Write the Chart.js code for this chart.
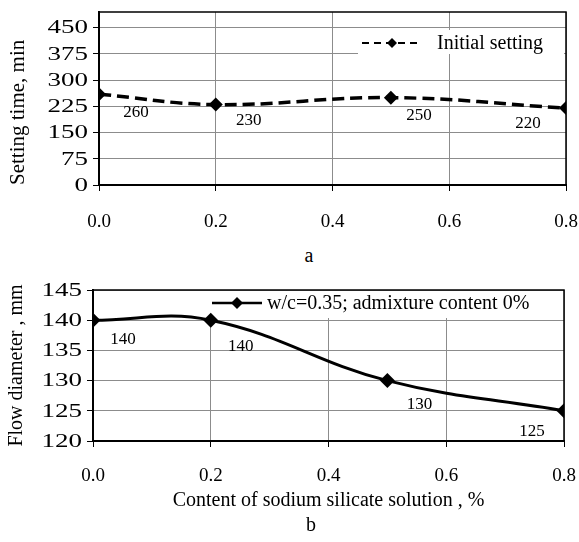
<!DOCTYPE html>
<html>
<head>
<meta charset="utf-8">
<script src="https://cdn.jsdelivr.net/npm/chart.js@4.4.0/dist/chart.umd.min.js"></script>
<style>
  html, body { margin: 0; padding: 0; background: #fff; }
  #wrap { position: relative; width: 579px; height: 542px; }
  canvas { position: absolute; left: 0; }
  .cap { position: absolute; width: 40px; text-align: center; font: 20px "Liberation Serif", "Times New Roman", serif; line-height: 20px; color: #000; }
</style>
</head>
<body>
<div id="wrap">
  <canvas id="top" width="579" height="240" style="top:0"></canvas>
  <div class="cap" style="left:289px;top:245px">a</div>
  <canvas id="bottom" width="579" height="250" style="top:270px"></canvas>
  <div class="cap" style="left:291px;top:514px">b</div>
</div>
<script>
// x positions = content of sodium silicate solution, %
const content = [0.0, 0.2, 0.5, 0.8];
// (a) initial setting time, min
const settingTime = [260, 230, 250, 220];
// (b) flow diameter, mm  (w/c = 0.35, admixture 0%)
const flowDiameter = [140, 140, 130, 125];

const xTicks = [0.0, 0.2, 0.4, 0.6, 0.8];
const settingTicks = [0, 75, 150, 225, 300, 375, 450];
const flowTicks = [120, 125, 130, 135, 140, 145];

const SERIF = '"Liberation Serif", "Times New Roman", serif';
Chart.defaults.font.family = SERIF;
Chart.defaults.color = '#000';

// value labels next to the points
const pointLabels = {
  id: 'pointLabels',
  afterDatasetsDraw(chart, args, opts) {
    const ctx = chart.ctx;
    const ds = chart.data.datasets[0];
    const meta = chart.getDatasetMeta(0);
    ctx.save();
    ctx.font = opts.font;
    ctx.fillStyle = '#000';
    ctx.textAlign = 'center';
    ctx.textBaseline = 'middle';
    meta.data.forEach((pt, i) => {
      const off = opts.offsets[i];
      ctx.fillText(String(ds.data[i].y), pt.x + off[0], pt.y + off[1]);
    });
    ctx.restore();
  }
};

// the y tick labels in the original are set in a horizontally widened face
const wideYTicks = {
  id: 'wideYTicks',
  afterDraw(chart, args, opts) {
    const s = chart.scales.y, ctx = chart.ctx;
    ctx.save();
    ctx.font = opts.font;
    ctx.fillStyle = '#000';
    ctx.textAlign = 'right';
    ctx.textBaseline = 'middle';
    s.ticks.forEach(t => {
      ctx.save();
      ctx.translate(opts.right, s.getPixelForValue(t.value) + 1);
      ctx.scale(opts.stretch, 1);
      ctx.fillText(String(t.value), 0, 0);
      ctx.restore();
    });
    ctx.restore();
  }
};

// plot frame (top/right) and the little key box inside the plot
const frameAndKey = {
  id: 'frameAndKey',
  beforeDatasetsDraw(chart, args, opts) {
    const { ctx, chartArea: a } = chart;
    const ds = chart.data.datasets[0];
    ctx.save();
    const k = opts.key;
    ctx.fillStyle = '#fff';
    ctx.fillRect(k.x, k.y, k.w, k.h);

    ctx.strokeStyle = '#000';
    ctx.lineWidth = 1.5;
    ctx.beginPath();
    ctx.moveTo(a.left, a.top);
    ctx.lineTo(a.right, a.top);
    ctx.lineTo(a.right, a.bottom);
    ctx.stroke();

    const ly = k.ly;
    ctx.lineWidth = k.lineWidth;
    ctx.setLineDash(k.dash);
    ctx.beginPath();
    ctx.moveTo(k.x0, ly);
    ctx.lineTo(k.x1, ly);
    ctx.stroke();
    ctx.setLineDash([]);
    const cx = (k.x0 + k.x1) / 2, r = k.r;
    ctx.fillStyle = '#000';
    ctx.beginPath();
    ctx.moveTo(cx, ly - r); ctx.lineTo(cx + r, ly); ctx.lineTo(cx, ly + r); ctx.lineTo(cx - r, ly);
    ctx.closePath();
    ctx.fill();
    ctx.font = k.font;
    ctx.textAlign = 'left';
    ctx.textBaseline = 'middle';
    ctx.fillText(ds.label, k.tx, ly + 1);
    ctx.restore();
  }
};

const gridOpts = { color: '#8c8c8c', lineWidth: 1, tickLength: 6, tickColor: '#000' };

function xScale(pad, h) {
  return {
    type: 'linear', min: 0, max: 0.8,
    afterBuildTicks: s => { s.ticks = xTicks.map(v => ({ value: v })); },
    afterFit: s => { s.height = h; s.paddingLeft = 0; s.paddingRight = 0; },
    ticks: { font: { size: 19 }, padding: pad, callback: v => v.toFixed(1) },
    grid: gridOpts,
    border: { color: '#000', width: 2 }
  };
}

new Chart(document.getElementById('top'), {
  type: 'line',
  data: {
    datasets: [{
      label: 'Initial setting',
      data: content.map((x, i) => ({ x: x, y: settingTime[i] })),
      borderColor: '#000', backgroundColor: '#000',
      borderWidth: 3.5, borderDash: [12, 6], tension: 0.4,
      pointStyle: 'rectRot', pointRadius: 7, pointBorderWidth: 0
    }]
  },
  options: {
    responsive: false, animation: false, devicePixelRatio: 1,
    layout: { padding: { left: 0, top: 12, right: 13, bottom: 0 } },
    plugins: {
      legend: { display: false }, tooltip: { enabled: false },
      pointLabels: { font: '17px ' + SERIF, offsets: [[37, 18], [33, 16], [28, 18], [-38, 15]] },
      wideYTicks: { font: '18px ' + SERIF, right: 88, stretch: 1.5 },
      frameAndKey: { key: { x: 358, y: 30, w: 206, h: 24, ly: 43, x0: 362, x1: 422, r: 5, lineWidth: 2, dash: [7, 5], tx: 437, font: '20px ' + SERIF } }
    },
    scales: {
      x: xScale(20, 55),
      y: {
        min: 0, max: 495,
        afterBuildTicks: s => { s.ticks = settingTicks.map(v => ({ value: v })); },
        afterFit: s => { s.width = 99; s.paddingTop = 0; s.paddingBottom = 0; },
        ticks: { display: false },
        grid: gridOpts,
        border: { color: '#000', width: 2 },
        title: { display: true, text: 'Setting time, min', font: { size: 21 }, align: 'start', padding: { top: 6, bottom: 0 } }
      }
    }
  },
  plugins: [frameAndKey, pointLabels, wideYTicks]
});

new Chart(document.getElementById('bottom'), {
  type: 'line',
  data: {
    datasets: [{
      label: 'w/c=0.35; admixture content 0%',
      data: content.map((x, i) => ({ x: x, y: flowDiameter[i] })),
      borderColor: '#000', backgroundColor: '#000',
      borderWidth: 3, tension: 0.4,
      pointStyle: 'rectRot', pointRadius: 7.5, pointBorderWidth: 0
    }]
  },
  options: {
    responsive: false, animation: false, devicePixelRatio: 1,
    layout: { padding: { left: 0, top: 20, right: 15, bottom: 0 } },
    plugins: {
      legend: { display: false }, tooltip: { enabled: false },
      pointLabels: { font: '17px ' + SERIF, offsets: [[30, 19], [30, 26], [32, 24], [-32, 21]] },
      wideYTicks: { font: '18px ' + SERIF, right: 82, stretch: 1.5 },
      frameAndKey: { key: { x: 210, y: 21, w: 353, h: 27, ly: 33, x0: 212, x1: 262, r: 6, lineWidth: 2.5, dash: [], tx: 267, font: '20px ' + SERIF } }
    },
    scales: {
      x: Object.assign(xScale(18, 79), {
        title: { display: true, text: 'Content of sodium silicate solution , %', font: { size: 20 }, padding: { top: 0, bottom: 7 } }
      }),
      y: {
        min: 120, max: 145,
        afterBuildTicks: s => { s.ticks = flowTicks.map(v => ({ value: v })); },
        afterFit: s => { s.width = 93; s.paddingTop = 0; s.paddingBottom = 0; },
        ticks: { display: false },
        grid: gridOpts,
        border: { color: '#000', width: 2 },
        title: { display: true, text: 'Flow diameter , mm', font: { size: 20 }, padding: { top: 5, bottom: 0 } }
      }
    }
  },
  plugins: [frameAndKey, pointLabels, wideYTicks]
});
</script>
</body>
</html>
